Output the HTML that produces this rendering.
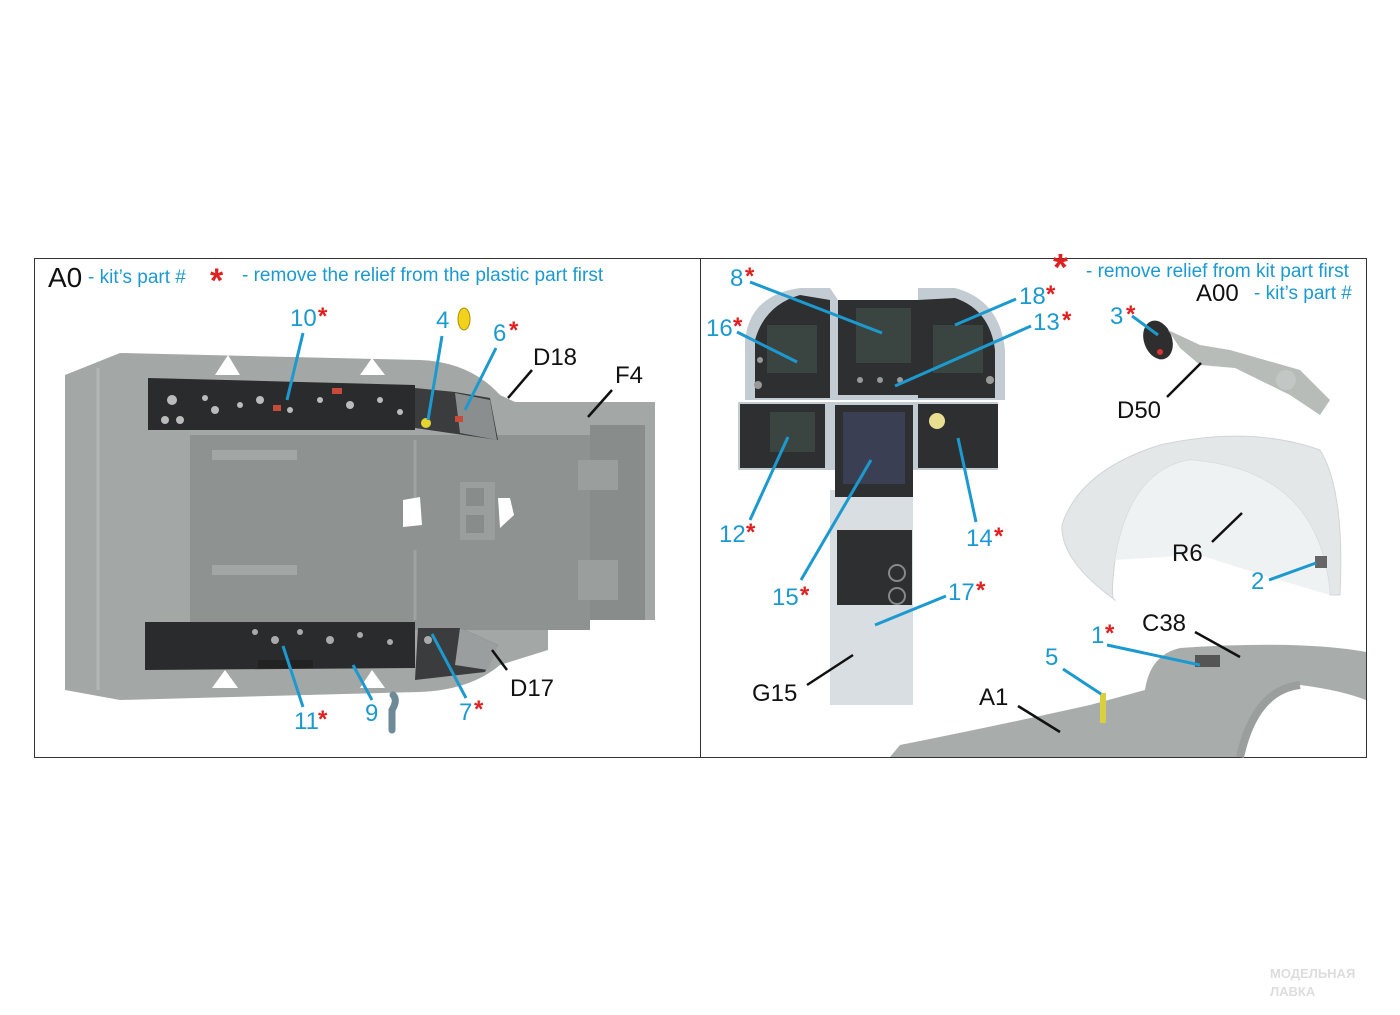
<!DOCTYPE html>
<html><head><meta charset="utf-8"><style>
html,body{margin:0;padding:0;background:#fff;}
svg{display:block}
text{font-family:"Liberation Sans",Arial,sans-serif;}
.b{fill:#1c9ad0;font-size:24px}
.k{fill:#111;font-size:24px}
.r{fill:#e02020;font-size:24px;font-weight:bold}
.lb{stroke:#1c9ad0;stroke-width:3;fill:none}
.lk{stroke:#111;stroke-width:2.5;fill:none}
</style></head><body>
<svg width="1400" height="1015" viewBox="0 0 1400 1015" xmlns="http://www.w3.org/2000/svg">
<rect width="1400" height="1015" fill="#fff"/>
<!-- frame -->
<rect x="34.5" y="258.5" width="1332" height="499" fill="#fff" stroke="#333" stroke-width="1"/>
<line x1="700.5" y1="258" x2="700.5" y2="757" stroke="#333" stroke-width="1"/>

<!-- LEFT TUB -->
<path d="M65,375 L120,353 L420,360 Q470,362 500,395 L515,402 L655,402 L655,620 L548,620 L548,650 L500,665 Q470,690 420,692 L120,700 L65,690 Z" fill="#a3a7a6"/>
<path d="M98,368 L98,690" stroke="#b3b7b6" stroke-width="3"/>
<rect x="190" y="435" width="400" height="195" fill="#8e9291"/>
<rect x="590" y="425" width="55" height="195" fill="#888c8b"/>
<rect x="578" y="460" width="40" height="30" fill="#9a9e9d"/>
<rect x="578" y="560" width="40" height="40" fill="#9a9e9d"/>
<rect x="212" y="450" width="85" height="10" fill="#a2a6a5"/>
<rect x="212" y="565" width="85" height="10" fill="#a2a6a5"/>
<line x1="415" y1="440" x2="415" y2="500" stroke="#9fa3a2" stroke-width="3"/>
<line x1="415" y1="550" x2="415" y2="620" stroke="#9fa3a2" stroke-width="3"/>
<path d="M403,500 L420,497 L422,525 L403,527 Z" fill="#fff"/>
<path d="M498,498 L510,498 L514,515 L500,528 Z" fill="#fff"/>
<rect x="460" y="482" width="35" height="58" fill="#9a9e9d"/>
<rect x="466" y="488" width="18" height="18" fill="#888c8b"/>
<rect x="466" y="515" width="18" height="18" fill="#888c8b"/>
<!-- notches -->
<path d="M215,375 L228,355 L240,375 Z" fill="#fff"/>
<path d="M360,375 L372,358 L385,375 Z" fill="#fff"/>
<path d="M212,688 L225,670 L238,688 Z" fill="#fff"/>
<path d="M360,688 L372,670 L385,688 Z" fill="#fff"/>
<!-- top panel -->
<path d="M148,378 L415,385 L415,430 L148,430 Z" fill="#2a2b2c"/>
<path d="M415,388 L455,392 L490,398 L498,440 L415,428 Z" fill="#3a3c3d"/>
<path d="M455,393 L490,400 L497,440 L460,433 Z" fill="#8a8e8f"/>
<g fill="#bbb"><circle cx="172" cy="400" r="5"/><circle cx="165" cy="420" r="4"/><circle cx="180" cy="420" r="4"/><circle cx="205" cy="398" r="3"/><circle cx="215" cy="410" r="4"/><circle cx="240" cy="405" r="3"/><circle cx="260" cy="400" r="4"/><circle cx="290" cy="410" r="3"/><circle cx="320" cy="400" r="3"/><circle cx="350" cy="405" r="4"/><circle cx="380" cy="400" r="3"/><circle cx="400" cy="412" r="3"/></g>
<rect x="273" y="405" width="8" height="6" fill="#c84a3a"/>
<rect x="332" y="388" width="10" height="6" fill="#c84a3a"/>
<rect x="455" y="416" width="8" height="6" fill="#c84a3a"/>
<circle cx="426" cy="423" r="5" fill="#e6d530"/>
<!-- bottom panel -->
<path d="M145,622 L415,622 L415,668 L145,670 Z" fill="#2a2b2c"/>
<rect x="258" y="660" width="55" height="8" fill="#222"/>
<path d="M418,628 L460,628 L498,645 L485,672 L415,680 Z" fill="#3a3c3d"/>
<path d="M460,628 L498,645 L488,670 L455,665 Z" fill="#9a9e9f"/>
<g fill="#aaa"><circle cx="255" cy="632" r="3"/><circle cx="275" cy="640" r="4"/><circle cx="300" cy="632" r="3"/><circle cx="330" cy="640" r="4"/><circle cx="360" cy="635" r="3"/><circle cx="390" cy="642" r="3"/><circle cx="428" cy="640" r="4"/></g>
<!-- part 9 -->
<path d="M393,695 Q398,700 392,710 L392,730" stroke="#6e8a96" stroke-width="7" fill="none" stroke-linecap="round"/>
<ellipse cx="464" cy="319" rx="6" ry="11" fill="#f2d21a" stroke="#b09000" stroke-width="1"/>

<!-- left labels -->
<text x="48" y="287" class="k" style="font-size:28px">A0</text>
<text x="88" y="283" class="b" style="font-size:19px">- kit’s part #</text>
<text x="210" y="292" class="r" style="font-size:34px">*</text>
<text x="242" y="281" class="b" style="font-size:19px">- remove the relief from the plastic part first</text>
<text x="290" y="326" class="b">10</text><text x="318" y="324" class="r">*</text>
<line x1="303" y1="333" x2="287" y2="400" class="lb"/>
<text x="436" y="328" class="b">4</text>
<line x1="442" y1="336" x2="428" y2="420" class="lb"/>
<text x="493" y="341" class="b">6</text><text x="509" y="338" class="r">*</text>
<line x1="496" y1="348" x2="465" y2="410" class="lb"/>
<text x="533" y="365" class="k">D18</text>
<line x1="532" y1="370" x2="508" y2="398" class="lk"/>
<text x="615" y="383" class="k">F4</text>
<line x1="612" y1="390" x2="588" y2="417" class="lk"/>
<text x="510" y="696" class="k">D17</text>
<line x1="507" y1="670" x2="492" y2="650" class="lk"/>
<text x="459" y="720" class="b">7</text><text x="474" y="717" class="r">*</text>
<line x1="466" y1="698" x2="432" y2="634" class="lb"/>
<text x="365" y="721" class="b">9</text>
<line x1="372" y1="700" x2="353" y2="665" class="lb"/>
<text x="294" y="729" class="b">11</text><text x="318" y="727" class="r">*</text>
<line x1="303" y1="707" x2="283" y2="646" class="lb"/>

<!-- RIGHT: instrument panel -->
<path d="M745,400 L745,340 Q750,295 800,288 L830,288 L838,300 L918,300 L918,288 L955,288 Q1000,300 1005,350 L1005,400 Z" fill="#c3ccd2"/>
<rect x="738" y="402" width="260" height="68" fill="#c3ccd2"/>
<rect x="830" y="490" width="83" height="215" fill="#d9dee3"/>
<path d="M755,340 Q765,305 800,295 L830,300 L830,398 L755,398 Z" fill="#2d2f30"/>
<rect x="838" y="300" width="80" height="95" fill="#2d2f30"/>
<path d="M918,300 L955,298 Q990,310 995,350 L995,398 L918,398 Z" fill="#2d2f30"/>
<rect x="767" y="325" width="50" height="48" fill="#3a4542"/>
<rect x="856" y="308" width="55" height="55" fill="#3a4542"/>
<rect x="933" y="325" width="50" height="48" fill="#3a4542"/>
<rect x="740" y="404" width="85" height="64" fill="#2d2f30"/>
<rect x="770" y="412" width="45" height="40" fill="#3a4542"/>
<rect x="835" y="405" width="78" height="92" fill="#2d2f30"/>
<rect x="843" y="412" width="62" height="72" fill="#3a3f54"/>
<rect x="918" y="404" width="80" height="64" fill="#2d2f30"/>
<circle cx="937" cy="421" r="8" fill="#e8e090"/>
<rect x="837" y="530" width="75" height="75" fill="#2d2f30"/>
<circle cx="897" cy="573" r="8" fill="none" stroke="#888" stroke-width="2"/>
<circle cx="897" cy="596" r="8" fill="none" stroke="#888" stroke-width="2"/>
<g fill="#999"><circle cx="760" cy="360" r="3"/><circle cx="758" cy="385" r="4"/><circle cx="990" cy="380" r="4"/><circle cx="860" cy="380" r="3"/><circle cx="880" cy="380" r="3"/><circle cx="900" cy="380" r="3"/></g>

<!-- right labels -->
<text x="730" y="286" class="b">8</text><text x="745" y="284" class="r">*</text>
<line x1="750" y1="282" x2="882" y2="333" class="lb"/>
<text x="706" y="336" class="b">16</text><text x="733" y="334" class="r">*</text>
<line x1="737" y1="332" x2="797" y2="362" class="lb"/>
<text x="1019" y="304" class="b">18</text><text x="1046" y="302" class="r">*</text>
<line x1="1016" y1="299" x2="955" y2="325" class="lb"/>
<text x="1033" y="330" class="b">13</text><text x="1062" y="328" class="r">*</text>
<line x1="1031" y1="326" x2="895" y2="386" class="lb"/>
<text x="719" y="542" class="b">12</text><text x="746" y="540" class="r">*</text>
<line x1="750" y1="520" x2="788" y2="437" class="lb"/>
<text x="966" y="546" class="b">14</text><text x="994" y="544" class="r">*</text>
<line x1="976" y1="522" x2="958" y2="438" class="lb"/>
<text x="772" y="605" class="b">15</text><text x="800" y="603" class="r">*</text>
<line x1="801" y1="580" x2="871" y2="460" class="lb"/>
<text x="948" y="600" class="b">17</text><text x="976" y="598" class="r">*</text>
<line x1="946" y1="596" x2="875" y2="625" class="lb"/>
<text x="752" y="701" class="k">G15</text>
<line x1="807" y1="685" x2="853" y2="655" class="lk"/>

<text x="1053" y="280" class="r" style="font-size:38px">*</text>
<text x="1086" y="277" class="b" style="font-size:19px">- remove relief from kit part first</text>
<text x="1196" y="301" class="k" style="font-size:24px">A00</text>
<text x="1254" y="299" class="b" style="font-size:19px">- kit’s part #</text>

<!-- D50 part -->
<ellipse cx="1158" cy="340" rx="14" ry="20" fill="#2e2e2e" transform="rotate(-20 1158 340)"/>
<circle cx="1160" cy="352" r="3" fill="#d33"/>
<path d="M1168,330 L1200,345 L1230,350 L1300,370 L1330,400 L1320,415 L1290,395 L1235,368 L1200,365 L1180,348 Z" fill="#b7bcb9"/>
<circle cx="1286" cy="380" r="10" fill="#c2c6c4"/>
<text x="1110" y="324" class="b">3</text><text x="1126" y="322" class="r">*</text>
<line x1="1132" y1="316" x2="1158" y2="335" class="lb"/>
<text x="1117" y="418" class="k">D50</text>
<line x1="1167" y1="397" x2="1201" y2="363" class="lk"/>

<!-- canopy R6 -->
<path d="M1062,525 Q1080,470 1160,445 Q1250,425 1320,450 Q1345,490 1340,595 L1330,595 Q1320,470 1190,460 Q1130,470 1115,560 Q1110,600 1115,600 Q1060,560 1062,525 Z" fill="#e3e7e8" stroke="#d0d5d7"/>
<path d="M1115,560 Q1130,470 1190,460 Q1320,470 1330,595 Q1260,575 1200,555 Z" fill="#eff2f3"/>
<rect x="1315" y="556" width="12" height="12" fill="#666"/>
<text x="1172" y="561" class="k">R6</text>
<line x1="1212" y1="542" x2="1242" y2="513" class="lk"/>
<text x="1251" y="589" class="b">2</text>
<line x1="1269" y1="580" x2="1316" y2="563" class="lb"/>

<!-- A1 rail -->
<path d="M890,757 L900,745 Q1000,725 1090,705 L1145,690 Q1150,655 1180,648 Q1300,640 1366,652 L1366,757 Z" fill="#a8adab"/>
<path d="M1240,757 Q1255,690 1300,685 Q1340,690 1366,700 L1366,757 Z" fill="#fff"/>
<path d="M1240,757 Q1255,690 1300,685" stroke="#9a9f9d" stroke-width="8" fill="none"/>
<rect x="1195" y="655" width="25" height="12" fill="#555"/>
<rect x="1100" y="693" width="6" height="30" fill="#d8d040"/>
<text x="1142" y="631" class="k">C38</text>
<line x1="1195" y1="632" x2="1240" y2="657" class="lk"/>
<text x="1091" y="643" class="b">1</text><text x="1105" y="641" class="r">*</text>
<line x1="1107" y1="645" x2="1200" y2="665" class="lb"/>
<text x="1045" y="665" class="b">5</text>
<line x1="1063" y1="669" x2="1101" y2="694" class="lb"/>
<text x="979" y="705" class="k">A1</text>
<line x1="1018" y1="706" x2="1060" y2="732" class="lk"/>

<!-- watermark -->
<text x="1270" y="978" style="font-size:13px;fill:#ddd;font-weight:bold">МОДЕЛЬНАЯ</text>
<text x="1270" y="996" style="font-size:13px;fill:#ddd;font-weight:bold">ЛАВКА</text>
</svg>
</body></html>
